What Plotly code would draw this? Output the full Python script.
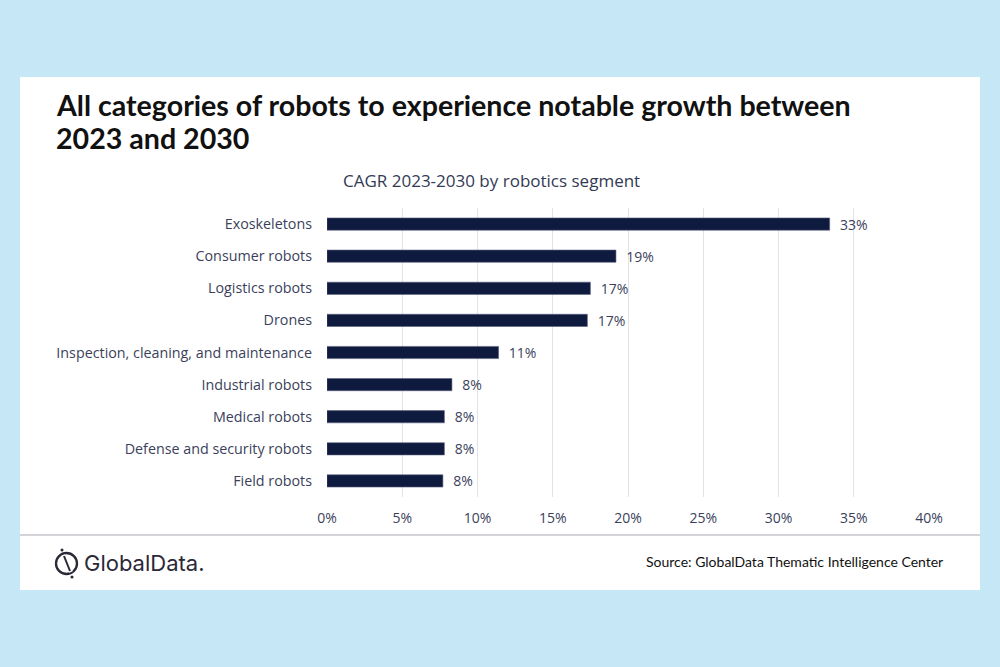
import plotly.graph_objects as go

categories = ["Exoskeletons", "Consumer robots", "Logistics robots", "Drones",
              "Inspection, cleaning, and maintenance", "Industrial robots",
              "Medical robots", "Defense and security robots", "Field robots"]
values = [33.4, 19.2, 17.5, 17.3, 11.4, 8.3, 7.8, 7.8, 7.7]
value_labels = ["33%", "19%", "17%", "17%", "11%", "8%", "8%", "8%", "8%"]
tick_vals = [0, 5, 10, 15, 20, 25, 30, 35, 40]
tick_text = ["0%", "5%", "10%", "15%", "20%", "25%", "30%", "35%", "40%"]
title_lines = ["All categories of robots to experience notable growth between",
               "2023 and 2030"]

W, H = 1000, 667
L, R, T, B = 327, 929, 208, 497

def px(x):
    return (x - L) / (R - L)

def py(y):
    return (B - y) / (B - T)

TXT = "#3b3f5c"
fig = go.Figure(go.Bar(
    y=categories, x=values, orientation="h",
    marker=dict(color="#0e1a3e", line=dict(color="#5a6080", width=0.6)),
    width=0.38,
    text=value_labels, texttemplate="\u00a0\u00a0%{text}",
    textposition="outside", cliponaxis=False,
    constraintext="none",
    textfont=dict(family="Open Sans", size=14, color=TXT),
    hoverinfo="skip",
))

fig.update_layout(
    width=W, height=H,
    margin=dict(l=L, r=W - R, t=T, b=H - B, pad=0),
    paper_bgcolor="#c5e7f6",
    plot_bgcolor="rgba(0,0,0,0)",
    showlegend=False,
    xaxis=dict(range=[0, 40], tickvals=tick_vals, ticktext=tick_text,
               showgrid=True, gridcolor="#e2e2e8", gridwidth=1,
               zeroline=False, showline=False, ticks="",
               tickfont=dict(family="Open Sans", size=14, color=TXT),
               ticklabelstandoff=11),
    yaxis=dict(autorange="reversed", showgrid=False, showline=False, ticks="",
               tickfont=dict(family="Open Sans", size=14.3, color=TXT),
               ticklabelstandoff=14),
    bargap=0.6,
    font=dict(family="Open Sans"),
)

shapes = [
    dict(type="rect", xref="paper", yref="paper", layer="below",
         x0=px(20), x1=px(980), y0=py(590), y1=py(77),
         fillcolor="white", line=dict(width=0)),
    dict(type="line", xref="paper", yref="paper",
         x0=px(20), x1=px(980), y0=py(535), y1=py(535),
         line=dict(color="#d4d4d8", width=2)),
    # logo icon
    dict(type="circle", xref="paper", yref="paper",
         x0=px(56), x1=px(77), y0=py(574), y1=py(553),
         line=dict(color="#2b2838", width=2.3)),
    dict(type="line", xref="paper", yref="paper",
         x0=px(63), x1=px(71), y0=py(555), y1=py(572),
         line=dict(color="white", width=4)),
    dict(type="line", xref="paper", yref="paper",
         x0=px(64), x1=px(70), y0=py(556), y1=py(571),
         line=dict(color="#2b2838", width=2)),
    dict(type="circle", xref="paper", yref="paper", fillcolor="#2b2838",
         x0=px(60.5), x1=px(63.5), y0=py(551.5), y1=py(548.5),
         line=dict(width=0)),
    dict(type="circle", xref="paper", yref="paper", fillcolor="#2b2838",
         x0=px(70.5), x1=px(73.5), y0=py(578.5), y1=py(575.5),
         line=dict(width=0)),
]
fig.update_layout(shapes=shapes)

annotations = [
    dict(text="<b>" + title_lines[0] + "</b>",
         xref="paper", yref="paper", x=px(54), y=py(105), xanchor="left", yanchor="middle",
         align="left", showarrow=False,
         font=dict(family="Lato", size=28.6, color="#111111")),
    dict(text="<b>" + title_lines[1] + "</b>",
         xref="paper", yref="paper", x=px(54), y=py(138), xanchor="left", yanchor="middle",
         align="left", showarrow=False,
         font=dict(family="Lato", size=28.6, color="#111111")),
    dict(text="CAGR 2023-2030 by robotics segment",
         xref="paper", yref="paper", x=px(491), y=py(180), xanchor="center", yanchor="middle",
         showarrow=False, font=dict(family="Open Sans", size=17, color="#333a55")),
    dict(text="GlobalData.",
         xref="paper", yref="paper", x=px(82), y=py(563), xanchor="left", yanchor="middle",
         showarrow=False, font=dict(family="Inter", size=22, color="#2b2838")),
    dict(text="Source: GlobalData Thematic Intelligence Center",
         xref="paper", yref="paper", x=px(945), y=py(561), xanchor="right", yanchor="middle",
         showarrow=False, font=dict(family="Lato", size=14, color="#111111")),
]
fig.update_layout(annotations=annotations)

fig.write_html("out.html", config={"displayModeBar": False},
               post_script="document.body.style.margin='0';document.body.style.overflow='hidden';")
